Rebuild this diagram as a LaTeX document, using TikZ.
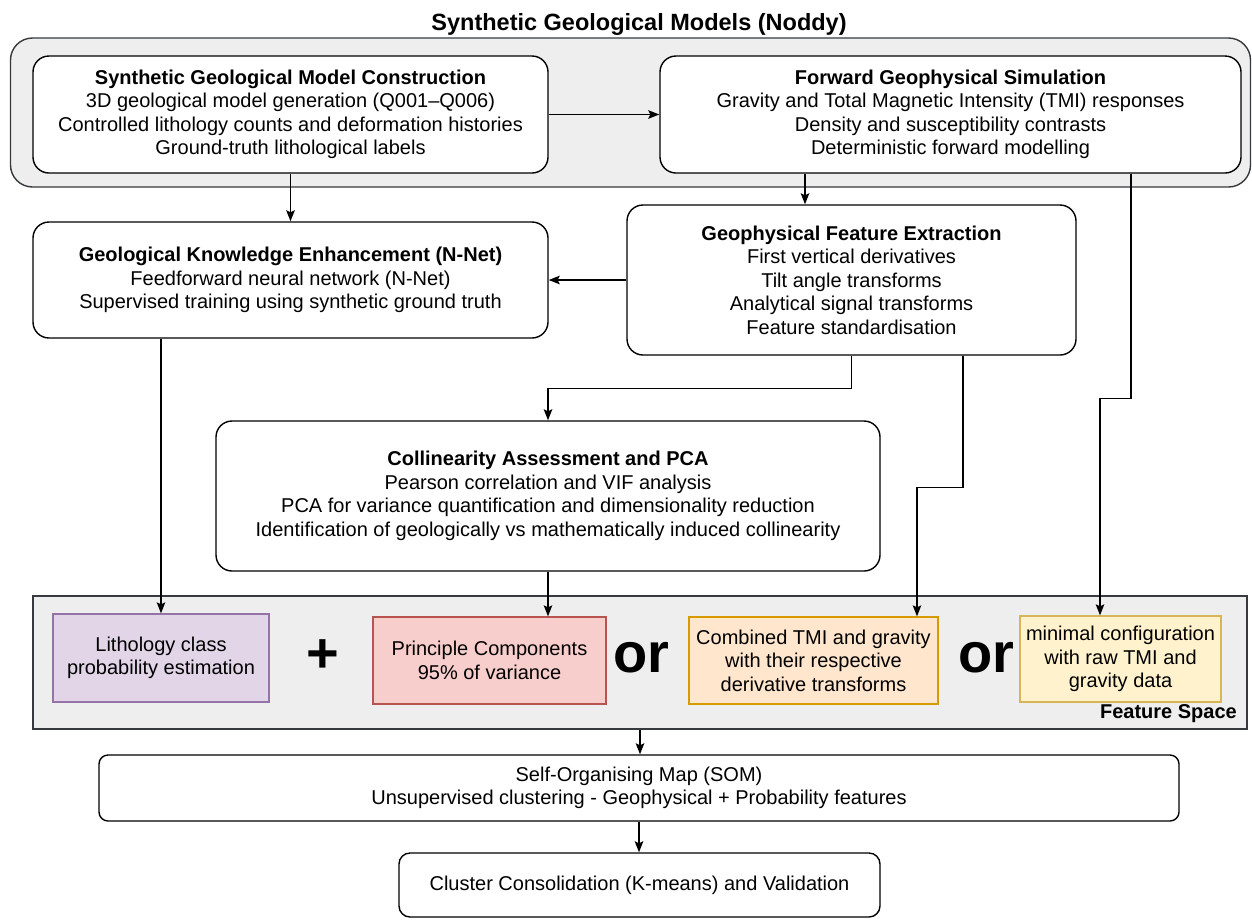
\documentclass[tikz,border=0pt]{standalone}
\usepackage{fontspec}
\setmainfont{Liberation Sans}
\usetikzlibrary{arrows.meta}
\definecolor{grayfill}{HTML}{EEEEEE}
\definecolor{graystroke}{HTML}{36393D}
\definecolor{purfill}{HTML}{E1D5E7}
\definecolor{purstroke}{HTML}{9673A6}
\definecolor{redfill}{HTML}{F8CECC}
\definecolor{redstroke}{HTML}{B85450}
\definecolor{orafill}{HTML}{FFE6CC}
\definecolor{orastroke}{HTML}{D79B00}
\definecolor{yelfill}{HTML}{FFF2CC}
\definecolor{yelstroke}{HTML}{D6B656}
\newcommand\txtsz{\fontsize{20}{23.5}\selectfont}
\newcommand\titlesz{\fontsize{23.5}{27}\selectfont\bfseries}
\newcommand\bigsz{\fontsize{56}{60}\selectfont\bfseries}
\tikzset{
  rbox/.style={draw=black, line width=1.4pt, fill=white, rounded corners=16pt,
    align=center, inner sep=0pt, font=\txtsz},
  fbox/.style={draw, line width=1.3pt, align=center, inner sep=0pt, font=\txtsz},
  arr/.style={draw=black, line width=1.5pt, -{Stealth[length=11pt,width=8.5pt,inset=2pt]}},
  bigtxt/.style={inner sep=0pt, font=\bigsz},
}
\begin{document}
\begin{tikzpicture}[x=1pt,y=-1pt]
\useasboundingbox (0,0) rectangle (1252,919);

% title
\node[anchor=base, font=\titlesz, inner sep=0pt] (title) at (639,30) {Synthetic Geological Models (Noddy)};

% outer group
\node[draw=graystroke, fill=grayfill, line width=1.4pt, rounded corners=22pt,
      minimum width=1240pt, minimum height=149pt, inner sep=0pt] (outer) at (630.5,112.5) {};

% boxes
\node[rbox, minimum width=515pt, minimum height=117pt] (A) at (290.5,114.5)
  {\textbf{Synthetic Geological Model Construction}\\
   3D geological model generation (Q001–Q006)\\
   Controlled lithology counts and deformation histories\\
   Ground-truth lithological labels};
\node[rbox, minimum width=581pt, minimum height=117pt] (B) at (950.5,114.5)
  {\textbf{Forward Geophysical Simulation}\\
   Gravity and Total Magnetic Intensity (TMI) responses\\
   Density and susceptibility contrasts\\
   Deterministic forward modelling};
\node[rbox, minimum width=515pt, minimum height=116pt] (C) at (290.5,280)
  {\textbf{Geological Knowledge Enhancement (N-Net)}\\
   Feedforward neural network (N-Net)\\
   Supervised training using synthetic ground truth};
\node[rbox, minimum width=449pt, minimum height=150pt] (D) at (851.5,280)
  {\textbf{Geophysical Feature Extraction}\\
   First vertical derivatives\\
   Tilt angle transforms\\
   Analytical signal transforms\\
   Feature standardisation};
\node[rbox, minimum width=664pt, minimum height=150pt] (E) at (548,496)
  {\textbf{Collinearity Assessment and PCA}\\
   Pearson correlation and VIF analysis\\
   PCA for variance quantification and dimensionality reduction\\
   Identification of geologically vs mathematically induced collinearity};

% feature space
\node[draw=graystroke, fill=grayfill, line width=1.4pt, minimum width=1214pt,
      minimum height=133pt, inner sep=0pt] (FS) at (640,662.5) {};
\node[anchor=base east, font=\txtsz\bfseries, inner sep=0pt] (fslabel) at (1237,718) {Feature Space};

\node[fbox, draw=purstroke, fill=purfill, minimum width=216pt, minimum height=88pt] (F1) at (161,658)
  {Lithology class\\probability estimation};
\node[fbox, draw=redstroke, fill=redfill, minimum width=233pt, minimum height=87pt] (F2) at (489.5,660.5)
  {Principle Components\\95\% of variance};
\node[fbox, draw=orastroke, fill=orafill, minimum width=249pt, minimum height=87pt] (F3) at (813.5,660.5)
  {Combined TMI and gravity\\with their respective\\derivative transforms};
\node[fbox, draw=yelstroke, fill=yelfill, minimum width=201pt, minimum height=86pt] (F4) at (1120.5,659)
  {minimal configuration\\with raw TMI and\\gravity data};

\node[bigtxt] (plus) at (323,656) {+};
\node[bigtxt] (or1) at (641,658) {or};
\node[bigtxt] (or2) at (986,658) {or};

% bottom boxes
\node[rbox, rounded corners=9pt, minimum width=1080pt, minimum height=66pt] (SOM) at (639,788)
  {Self-Organising Map (SOM)\\Unsupervised clustering - Geophysical + Probability features};
\node[rbox, rounded corners=11pt, minimum width=481pt, minimum height=64pt] (fin) at (639.5,885)
  {Cluster Consolidation (K-means) and Validation};

% connectors
\draw[arr] (A.east) -- (B.west);
\draw[arr] (A.south) -- (C.north);
\draw[arr] ([xshift=-145.5]B.south) -- ([xshift=-46.5]D.north);
\draw[arr] (D.west) -- (C.east);
\draw[arr] (D.south) -- ++(0,33) -| (E.north);
\draw[arr] ([xshift=111.5]D.south) -- ++(0,132) -| ([xshift=103.5]F3.north);
\draw[arr] ([xshift=180.5]B.south) -- ++(0,225) -| ([xshift=-20.5]F4.north);
\draw[arr] ([xshift=-129.5]C.south) -- (F1.north);
\draw[arr] (E.south) -- (E.south |- F2.north);
\draw[arr] (FS.south) -- (FS.south |- SOM.north);
\draw[arr] (SOM.south) -- (SOM.south |- fin.north);
\end{tikzpicture}
\end{document}
